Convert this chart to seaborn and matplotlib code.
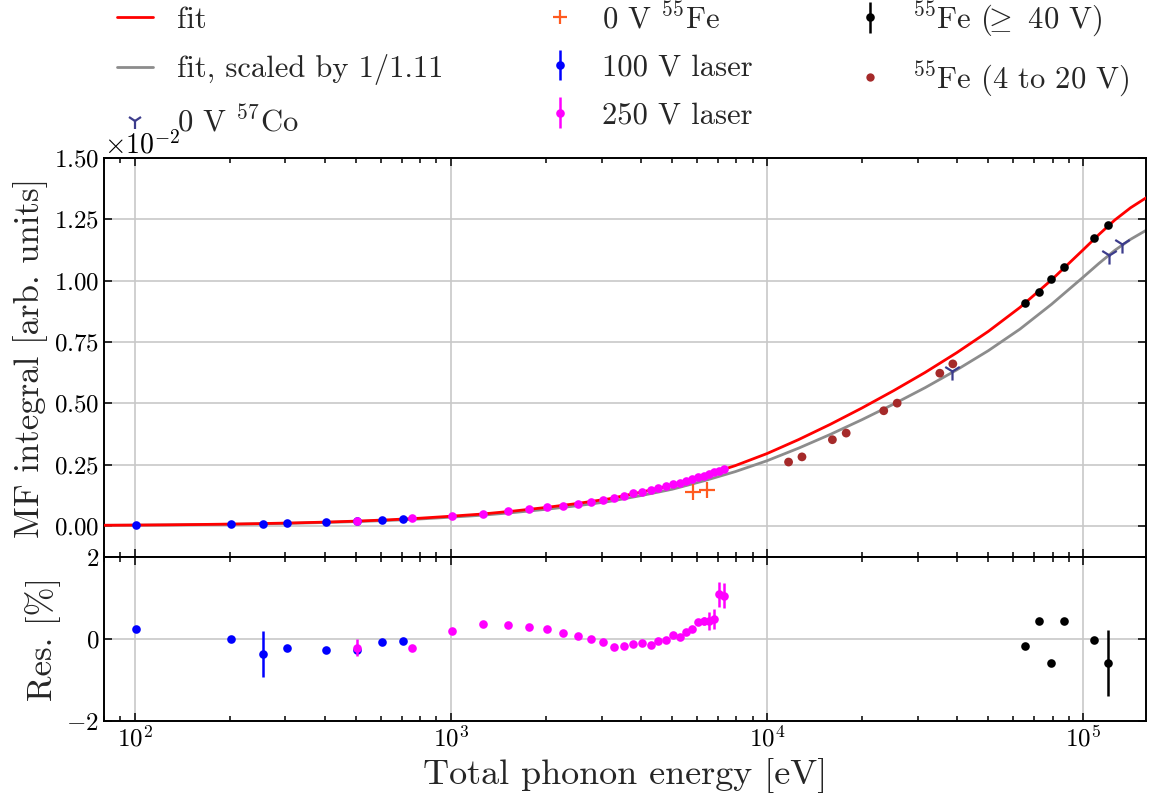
import numpy as np
import matplotlib
matplotlib.use("Agg")
import matplotlib.pyplot as plt
import seaborn as sns
from matplotlib.ticker import ScalarFormatter, MultipleLocator, LogLocator, NullFormatter
from matplotlib.lines import Line2D

# MF integral values are listed in units of 1e-2
SCALE = 1e-2

# Fitted response curve, tabulated every 0.1 decade
fit_energy = [79, 100, 126, 158, 200, 251, 316, 398, 501, 631, 794, 1000, 1259,
              1585, 1995, 2512, 3162, 3981, 5012, 6310, 7943, 10000, 12589,
              15849, 19953, 25119, 31623, 39811, 50119, 63096, 79433, 100000,
              112202, 125893, 141254, 158489]
fit_value = [0.0033, 0.0041, 0.0051, 0.0064, 0.0081, 0.0102, 0.0128, 0.0161,
             0.0202, 0.0254, 0.0319, 0.0402, 0.0492, 0.0615, 0.0757, 0.0920,
             0.1110, 0.1375, 0.1665, 0.2045, 0.2465, 0.2955, 0.3525, 0.4145,
             0.4810, 0.5515, 0.6260, 0.7065, 0.7935, 0.8910, 1.0035, 1.1260,
             1.1885, 1.2473, 1.2973, 1.3386]
fit_scale = 1.11

# 0 V 55Fe
fe55_0v_energy = [5830, 6460]
fe55_0v_value = [0.139, 0.146]

# 0 V 57Co
co57_energy = [38400, 121000, 132500]
co57_value = [0.634, 1.104, 1.149]

# 55Fe at 4 to 20 V
fe55_low_energy = [11700, 12900, 16100, 17800, 23400, 25800, 35200, 38700]
fe55_low_value = [0.261, 0.282, 0.352, 0.379, 0.470, 0.501, 0.623, 0.661]

# 55Fe at >= 40 V
fe55_high_energy = [65600, 72350, 78950, 86980, 108400, 119500]
fe55_high_value = [0.909, 0.954, 1.005, 1.054, 1.173, 1.226]
fe55_high_res = [-0.16, 0.44, -0.58, 0.43, -0.02, -0.58]
fe55_high_res_err = [0.05, 0.05, 0.05, 0.05, 0.05, 0.80]

# 100 V laser
laser100_energy = [101, 202, 255, 303, 404, 505, 606, 707]
laser100_value = [0.004, 0.008, 0.010, 0.012, 0.016, 0.020, 0.024, 0.028]
laser100_res = [0.25, 0.00, -0.37, -0.21, -0.26, -0.26, -0.07, -0.04]
laser100_res_err = [0.03, 0.03, 0.56, 0.03, 0.03, 0.03, 0.03, 0.03]

# 250 V laser
laser250_energy = [504, 756, 1008, 1260, 1512, 1764, 2016, 2268, 2520, 2772,
                   3024, 3276, 3528, 3780, 4032, 4284, 4536, 4788, 5040, 5292,
                   5544, 5796, 6048, 6300, 6552, 6804, 7056, 7308]
laser250_value = [0.020, 0.031, 0.041, 0.049, 0.060, 0.068, 0.076, 0.083, 0.092,
                  0.100, 0.108, 0.115, 0.123, 0.133, 0.139, 0.146, 0.154, 0.163,
                  0.170, 0.177, 0.185, 0.192, 0.199, 0.206, 0.212, 0.219, 0.226,
                  0.231]
laser250_res = [-0.21, -0.21, 0.20, 0.37, 0.35, 0.30, 0.25, 0.14, 0.07, -0.01,
                -0.07, -0.20, -0.17, -0.13, -0.09, -0.14, -0.06, -0.03, 0.10,
                0.04, 0.18, 0.25, 0.42, 0.43, 0.43, 0.49, 1.09, 1.06]
laser250_res_err = [0.20, 0.04, 0.03, 0.03, 0.03, 0.03, 0.03, 0.03, 0.03, 0.03,
                    0.03, 0.03, 0.03, 0.03, 0.03, 0.03, 0.03, 0.03, 0.04, 0.04,
                    0.05, 0.06, 0.08, 0.10, 0.22, 0.25, 0.30, 0.30]

sns.set_style("ticks")
plt.rcParams.update({
    "font.family": ["cmr10"],
    "mathtext.fontset": "cm",
    "axes.formatter.use_mathtext": True,
    "axes.unicode_minus": True,
    "axes.linewidth": 1.4,
    "axes.edgecolor": "black",
    "xtick.color": "black",
    "ytick.color": "black",
})

RED = "#ff0000"
GREY = "#8c8c8c"
BLUE = "#0000ff"
MAGENTA = "#ff00ff"
BROWN = "#a52a2a"
ORANGE = "#ff5a1f"
NAVY = "#3c3c8c"
MS = 6.2

fig = plt.figure(figsize=(11.53, 8.0), dpi=100)
W, H = 1153.0, 800.0
left, right = 104 / W, 1146 / W
ax = fig.add_axes([left, 1 - 557 / H, right - left, 399 / H])
axr = fig.add_axes([left, 1 - 721 / H, right - left, 164 / H], sharex=ax)

fit_e = np.array(fit_energy)
fit_v = np.array(fit_value) * SCALE

# fit curves
sns.lineplot(x=fit_e, y=fit_v, ax=ax, color=RED, lw=2.0, sort=False,
             estimator=None, legend=False, zorder=3)
sns.lineplot(x=fit_e, y=fit_v / fit_scale, ax=ax, color=GREY, lw=2.0,
             sort=False, estimator=None, legend=False, zorder=2)

# measurement series without error bars
sns.scatterplot(x=fe55_low_energy, y=np.array(fe55_low_value) * SCALE, ax=ax,
                color=BROWN, s=40, edgecolor="none", zorder=5, legend=False)
sns.scatterplot(x=fe55_0v_energy, y=np.array(fe55_0v_value) * SCALE, ax=ax,
                color=ORANGE, marker="+", s=130, linewidth=1.6, zorder=5,
                legend=False)
sns.scatterplot(x=co57_energy, y=np.array(co57_value) * SCALE, ax=ax,
                color=NAVY, marker="1", s=170, linewidth=1.6, zorder=5,
                legend=False)

# measurement series with error bars
def with_errors(axis, x, y, yerr, color, z):
    axis.errorbar(x, y, yerr=yerr, fmt="o", color=color, ms=MS, mew=0,
                  elinewidth=1.8, capsize=0, zorder=z)

l100 = np.array(laser100_value) * SCALE
l250 = np.array(laser250_value) * SCALE
fhi = np.array(fe55_high_value) * SCALE
with_errors(ax, laser100_energy, l100, l100 * np.array(laser100_res_err) / 100, BLUE, 6)
with_errors(ax, laser250_energy, l250, l250 * np.array(laser250_res_err) / 100, MAGENTA, 7)
with_errors(ax, fe55_high_energy, fhi, fhi * np.array(fe55_high_res_err) / 100, "black", 8)

with_errors(axr, laser100_energy, laser100_res, laser100_res_err, BLUE, 6)
with_errors(axr, laser250_energy, laser250_res, laser250_res_err, MAGENTA, 7)
with_errors(axr, fe55_high_energy, fe55_high_res, fe55_high_res_err, "black", 8)

# axes, ticks, grid
ax.set_xscale("log")
ax.set_xlim(80, 1.58e5)
ax.set_ylim(-0.126 * SCALE, 1.5 * SCALE)
axr.set_ylim(-2, 2)

fmt = ScalarFormatter(useMathText=True)
fmt.set_powerlimits((0, 0))
ax.yaxis.set_major_locator(MultipleLocator(0.25 * SCALE))
ax.yaxis.set_major_formatter(fmt)
ax.yaxis.get_offset_text().set_fontsize(20)
axr.yaxis.set_major_locator(MultipleLocator(2))
axr.xaxis.set_major_locator(LogLocator(base=10, numticks=10))
axr.xaxis.set_minor_locator(LogLocator(base=10, subs=np.arange(2, 10), numticks=20))
axr.xaxis.set_minor_formatter(NullFormatter())

for a in (ax, axr):
    a.tick_params(which="both", direction="in", top=True, right=True,
                  labelsize=18, width=1.1)
    a.tick_params(which="major", length=6)
    a.tick_params(which="minor", length=3.5)
    a.grid(True, which="major", color="#c8c8c8", lw=1.2)
    a.set_axisbelow(True)
ax.tick_params(labelbottom=False)

ax.set_ylabel("MF integral [arb. units]", fontsize=25)
axr.set_ylabel("Res. [%]", fontsize=25)
axr.set_xlabel("Total phonon energy [eV]", fontsize=26)
ax.set_xlabel("")

# legend
def err_handle(color):
    return ax.errorbar([], [], yerr=[], fmt="o", color=color, ms=MS, mew=0,
                       elinewidth=1.8, capsize=0)

handles = [
    Line2D([], [], color=RED, lw=2.0),
    Line2D([], [], color=GREY, lw=2.0),
    Line2D([], [], color=NAVY, marker="1", ls="none", ms=11, mew=1.6),
    Line2D([], [], color=ORANGE, marker="+", ls="none", ms=10, mew=1.6),
    err_handle(BLUE),
    err_handle(MAGENTA),
    err_handle("black"),
    Line2D([], [], color=BROWN, marker="o", ls="none", ms=6, mew=0),
]
labels = [
    "fit",
    "fit, scaled by 1/1.11",
    r"0 V $^{57}$Co",
    r"0 V $^{55}$Fe",
    "100 V laser",
    "250 V laser",
    r"$^{55}$Fe ($\!\!{\geq}$ 40 V)",
    r"$^{55}$Fe (4 to 20 V)",
]
fig.legend(handles, labels, loc="upper left", bbox_to_anchor=(0.078, 1.035),
           ncol=3, frameon=False, fontsize=22, handlelength=1.15,
           handletextpad=0.8, columnspacing=3.25, labelspacing=0.66)

fig.savefig("out.png", dpi=100)
